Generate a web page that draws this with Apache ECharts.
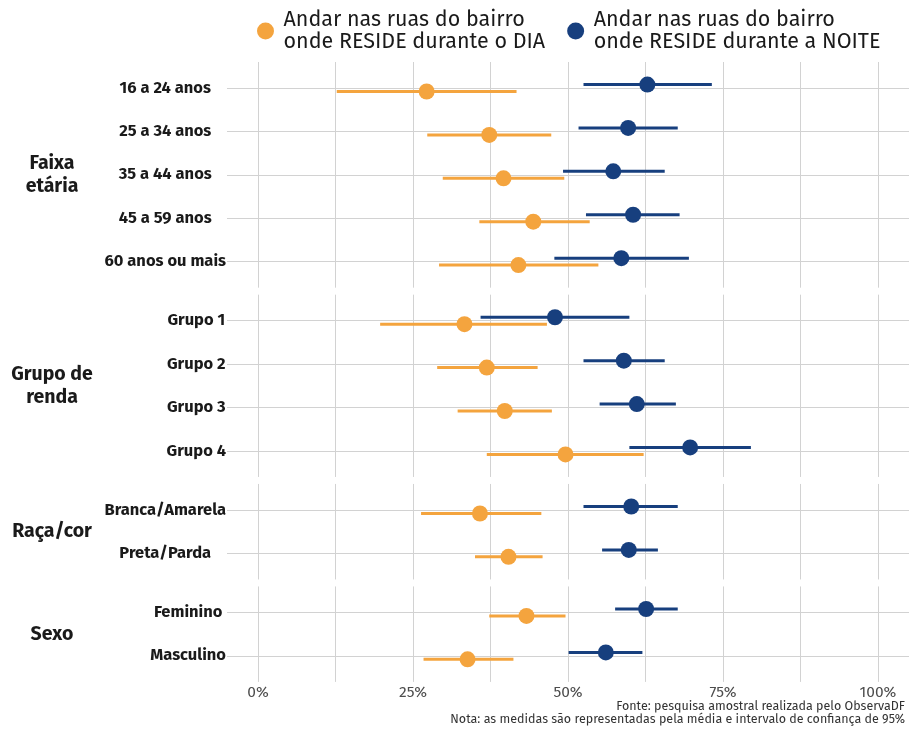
<!DOCTYPE html>
<html>
<head>
<meta charset="utf-8">
<script src="https://cdn.jsdelivr.net/npm/echarts@6/dist/echarts.min.js"></script>
<style>
  html, body { margin: 0; padding: 0; background: #ffffff; }
  #chart { width: 909px; height: 733px; }
</style>
</head>
<body>
<div id="chart"></div>
<script>
// Facet titles (left strip) and the categories shown in each facet
const PANEL_TITLES = ['Faixa\netária', 'Grupo de\nrenda', 'Raça/cor', 'Sexo'];
const CATS_IDADE = ['16 a 24 anos', '25 a 34 anos', '35 a 44 anos', '45 a 59 anos', '60 anos ou mais'];
const CATS_RENDA = ['Grupo 1', 'Grupo 2', 'Grupo 3', 'Grupo 4'];
const CATS_RACA = ['Branca/Amarela', 'Preta/Parda'];
const CATS_SEXO = ['Feminino', 'Masculino'];

// Series names
const NAME_DIA = 'Andar nas ruas do bairro\nonde RESIDE durante o DIA';
const NAME_NOITE = 'Andar nas ruas do bairro\nonde RESIDE durante a NOITE';

// Percentages: mean and 95% confidence interval (lower / upper)
const IDADE_DIA_MEDIA = [27.2, 37.3, 39.6, 44.4, 42.0];
const IDADE_DIA_INF   = [12.7, 27.3, 29.8, 35.7, 29.2];
const IDADE_DIA_SUP   = [41.7, 47.3, 49.4, 53.5, 54.9];
const IDADE_NOITE_MEDIA = [62.8, 59.7, 57.3, 60.5, 58.6];
const IDADE_NOITE_INF   = [52.5, 51.7, 49.2, 52.9, 47.8];
const IDADE_NOITE_SUP   = [73.2, 67.7, 65.6, 68.0, 69.5];

const RENDA_DIA_MEDIA = [33.3, 36.9, 39.8, 49.6];
const RENDA_DIA_INF   = [19.7, 28.9, 32.2, 36.9];
const RENDA_DIA_SUP   = [46.6, 45.1, 47.4, 62.2];
const RENDA_NOITE_MEDIA = [47.9, 59.0, 61.1, 69.7];
const RENDA_NOITE_INF   = [35.9, 52.5, 55.1, 59.9];
const RENDA_NOITE_SUP   = [59.9, 65.6, 67.4, 79.5];

const RACA_DIA_MEDIA = [35.8, 40.4];
const RACA_DIA_INF   = [26.3, 35.0];
const RACA_DIA_SUP   = [45.7, 45.9];
const RACA_NOITE_MEDIA = [60.2, 59.8];
const RACA_NOITE_INF   = [52.5, 55.5];
const RACA_NOITE_SUP   = [67.7, 64.5];

const SEXO_DIA_MEDIA = [43.3, 33.8];
const SEXO_DIA_INF   = [37.3, 26.7];
const SEXO_DIA_SUP   = [49.6, 41.2];
const SEXO_NOITE_MEDIA = [62.6, 56.1];
const SEXO_NOITE_INF   = [57.6, 50.1];
const SEXO_NOITE_SUP   = [67.7, 62.0];

// X axis ticks
const X_GRID = [0, 12.5, 25, 37.5, 50, 62.5, 75, 87.5, 100];
const X_LABELS = [0, 25, 50, 75, 100];

const panels = [
  { title: PANEL_TITLES[0], cats: CATS_IDADE,
    dia: [IDADE_DIA_INF, IDADE_DIA_SUP, IDADE_DIA_MEDIA],
    noite: [IDADE_NOITE_INF, IDADE_NOITE_SUP, IDADE_NOITE_MEDIA] },
  { title: PANEL_TITLES[1], cats: CATS_RENDA,
    dia: [RENDA_DIA_INF, RENDA_DIA_SUP, RENDA_DIA_MEDIA],
    noite: [RENDA_NOITE_INF, RENDA_NOITE_SUP, RENDA_NOITE_MEDIA] },
  { title: PANEL_TITLES[2], cats: CATS_RACA,
    dia: [RACA_DIA_INF, RACA_DIA_SUP, RACA_DIA_MEDIA],
    noite: [RACA_NOITE_INF, RACA_NOITE_SUP, RACA_NOITE_MEDIA] },
  { title: PANEL_TITLES[3], cats: CATS_SEXO,
    dia: [SEXO_DIA_INF, SEXO_DIA_SUP, SEXO_DIA_MEDIA],
    noite: [SEXO_NOITE_INF, SEXO_NOITE_SUP, SEXO_NOITE_MEDIA] }
];

// Layout and styling
const COLOR_DIA = '#F4A43E';
const COLOR_NOITE = '#173F7E';
const GRID_COLOR = '#d2d2d2';
const FONT = "'Fira Sans', 'Noto Sans', sans-serif";
const LABEL_SIZE = 16.5;
const ROW_PX = 43.4;       // height of one category row
const PAD = 0.6;           // padding (in rows) above first and below last category
const PANEL_GAP = 7;
const FIRST_TOP = 62;
const PLOT_LEFT = 227;
const PLOT_WIDTH = 684;
const DODGE = 0.08;        // vertical offset between the two series (in rows)

// Text measurement, used to centre each facet's labels in the label column
const measureCtx = document.createElement('canvas').getContext('2d');
function textWidth(txt, font) {
  measureCtx.font = font;
  return measureCtx.measureText(txt).width;
}

function renderer(color, offset) {
  return function (params, api) {
    const row = api.value(3) + offset;
    const a = api.coord([api.value(0), row]);
    const b = api.coord([api.value(1), row]);
    const c = api.coord([api.value(2), row]);
    return {
      type: 'group',
      children: [
        { type: 'line', shape: { x1: a[0], y1: a[1], x2: b[0], y2: b[1] },
          style: { stroke: color, lineWidth: 3 } },
        { type: 'circle', shape: { cx: c[0], cy: c[1], r: 8 },
          style: { fill: color } }
      ]
    };
  };
}

const grids = [], xAxes = [], yAxes = [], series = [], graphics = [];
let panelTop = FIRST_TOP;
panels.forEach(function (p, i) {
  const n = p.cats.length;
  const h = (n - 1 + 2 * PAD) * ROW_PX;
  const rows = p.cats.map(function (_, k) { return k + 1; });
  const labelFont = 'bold ' + LABEL_SIZE + 'px ' + FONT;
  const maxW = Math.max.apply(null, p.cats.map(function (c) { return textWidth(c, labelFont); }));
  grids.push({ left: PLOT_LEFT, top: panelTop, width: PLOT_WIDTH, height: h, containLabel: false });
  xAxes.push({
    gridIndex: i, type: 'value', min: -5, max: 105,
    axisLine: { show: false },
    axisTick: { show: false, customValues: X_GRID },
    axisLabel: {
      show: i === panels.length - 1, customValues: X_LABELS,
      formatter: function (v) { return v + '%'; },
      fontFamily: FONT, fontSize: 15.5, color: '#4d4d4d', margin: 3
    },
    splitLine: { show: true, lineStyle: { color: GRID_COLOR, width: 1 } }
  });
  yAxes.push({
    gridIndex: i, type: 'value', inverse: true, min: 1 - PAD, max: n + PAD,
    axisLine: { show: false },
    axisTick: { show: false, customValues: rows },
    axisLabel: {
      customValues: rows,
      formatter: function (v) { return p.cats[Math.round(v) - 1]; },
      fontFamily: FONT, fontSize: LABEL_SIZE, fontWeight: 'bold', color: '#1a1a1a',
      align: 'center', margin: maxW / 2 + 1
    },
    splitLine: { show: true, lineStyle: { color: GRID_COLOR, width: 1 } }
  });
  series.push({
    name: NAME_DIA, type: 'custom', xAxisIndex: i, yAxisIndex: i,
    itemStyle: { color: COLOR_DIA },
    encode: { x: [0, 1, 2], y: 3 },
    renderItem: renderer(COLOR_DIA, DODGE),
    data: rows.map(function (r, k) { return [p.dia[0][k], p.dia[1][k], p.dia[2][k], r]; })
  });
  series.push({
    name: NAME_NOITE, type: 'custom', xAxisIndex: i, yAxisIndex: i,
    itemStyle: { color: COLOR_NOITE },
    encode: { x: [0, 1, 2], y: 3 },
    renderItem: renderer(COLOR_NOITE, -DODGE),
    data: rows.map(function (r, k) { return [p.noite[0][k], p.noite[1][k], p.noite[2][k], r]; })
  });
  graphics.push({
    type: 'text', x: 52, y: panelTop + h / 2,
    style: { text: p.title, font: 'bold 19.5px ' + FONT, fill: '#1a1a1a',
             align: 'center', verticalAlign: 'middle', lineHeight: 23 }
  });
  panelTop += h + PANEL_GAP;
});

graphics.push({
  type: 'text', x: 905, y: 707,
  style: { text: 'Fonte: pesquisa amostral realizada pelo ObservaDF', font: '12.5px ' + FONT,
           fill: '#333333', align: 'right', verticalAlign: 'middle' }
});
graphics.push({
  type: 'text', x: 905, y: 720,
  style: { text: 'Nota: as medidas são representadas pela média e intervalo de confiança de 95%',
           font: '12.5px ' + FONT, fill: '#333333', align: 'right', verticalAlign: 'middle' }
});

const chart = echarts.init(document.getElementById('chart'), null, { renderer: 'canvas' });
chart.setOption({
  animation: false,
  backgroundColor: '#ffffff',
  legend: {
    data: [NAME_DIA, NAME_NOITE],
    icon: 'circle', itemWidth: 26, itemHeight: 17, itemGap: 22,
    left: 252, top: 4,
    textStyle: { fontFamily: FONT, fontSize: 21.5, lineHeight: 22, color: '#1a1a1a' }
  },
  grid: grids,
  xAxis: xAxes,
  yAxis: yAxes,
  series: series,
  graphic: graphics
});
</script>
</body>
</html>
